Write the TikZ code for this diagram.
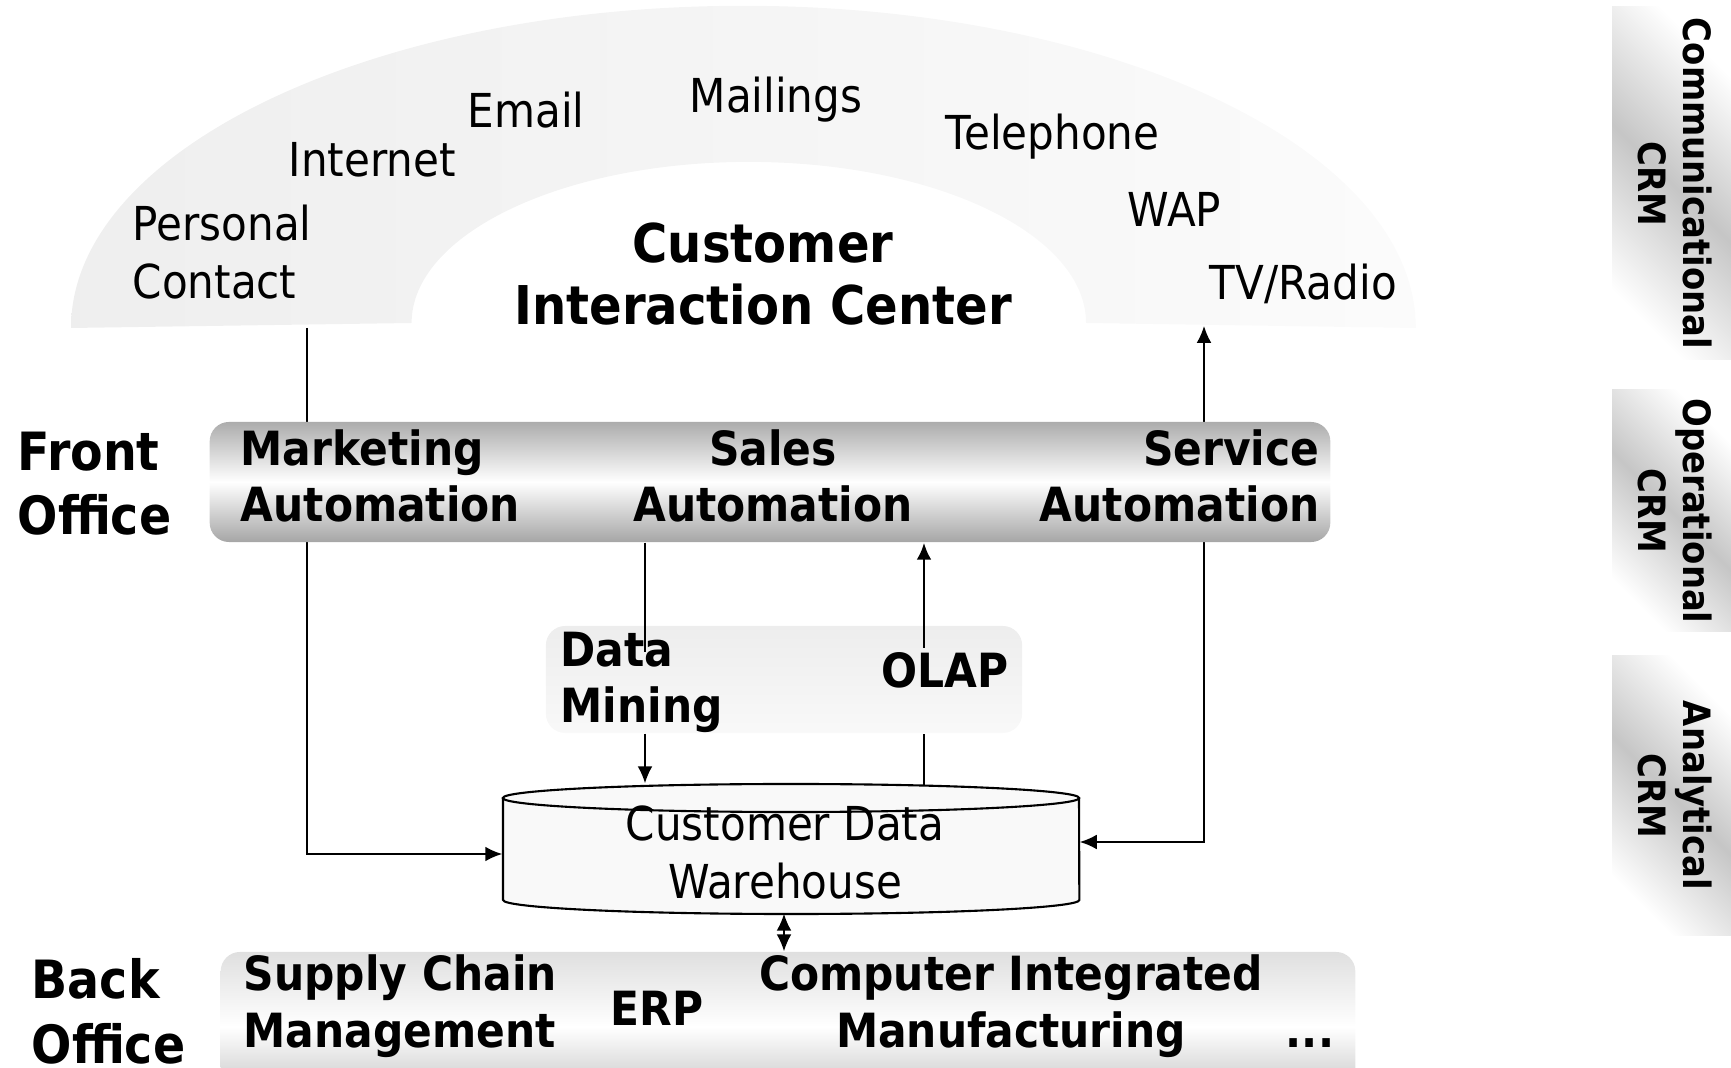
\documentclass[tikz,border=0pt]{standalone}
\usepackage{fontspec}
\setmainfont{DejaVu Sans}[FakeStretch=0.9]
\usetikzlibrary{arrows.meta}

\begin{document}
\begin{tikzpicture}[x=0.01cm,y=-0.01cm,
	>={Latex[length=4.8pt,width=4.2pt]},
	chan/.style={font=\fontsize{13.3}{16.5}\selectfont,inner sep=0pt,anchor=base west,align=left},
	lbl/.style={font=\bfseries\fontsize{13.4}{16}\selectfont,inner sep=0pt},
	title/.style={font=\bfseries\fontsize{15.2}{17.9}\selectfont,inner sep=0pt,align=center},
	office/.style={font=\bfseries\fontsize{15}{18.2}\selectfont,inner sep=0pt,align=left,anchor=base west},
	bar/.style={rounded corners=5.5pt,inner sep=0pt},
	crm/.style={font=\bfseries\fontsize{10.7}{12.8}\selectfont,rotate=-90,align=center,inner sep=0pt},
	crmfill/.style={top color=white,bottom color=white,middle color=gray!45,shading angle=-45},
	conn/.style={line width=0.45pt}]
	\useasboundingbox (0,0) rectangle (1731,1068);
	\clip (0,0) rectangle (1731,1068);
	
	%Kanaele
	\shade[left color=gray!13,right color=gray!3] (71,328) arc[start angle=180,end angle=0,x radius=6.72cm,y radius=3.22cm] -- (1086,323) arc[start angle=0,end angle=180,x radius=3.37cm,y radius=1.61cm] -- cycle;
	\node[chan] (personal) at (132,299) {Personal\\Contact};
	\node[chan] (internet) at (288,177) {Internet};
	\node[chan] (email) at (467,128) {Email};
	\node[chan] (mailings) at (689,113) {Mailings};
	\node[chan] (telephone) at (945,150) {Telephone};
	\node[chan] (wap) at (1127,227) {WAP};
	\node[chan] (tvradio) at (1209,300) {TV/Radio};
	\node[title,anchor=base] (cic) at (763,325) {Customer\\Interaction Center};
	\coordinate (pc) at (307,328);
	\coordinate (tv) at (1204,326);
	
	%Data Warehouse (nur Anker)
	\node[minimum width=5.76cm,minimum height=1.29cm,inner sep=0pt] (cdw) at (791,848.5) {};
	
	\draw[conn,->] (pc) |- ([yshift=-0.055cm]cdw.west);
	\draw[conn,<->] ([yshift=0.065cm]cdw.east) -| (tv);
	
	%Front Office
	\node[office] (front) at (17,535) {Front\\Office};
	\node[bar,top color=gray!65,bottom color=gray!70,middle color=white,minimum width=11.2cm,minimum height=1.2cm] (fo) at (770,482) {};
	\node[lbl,anchor=base west,align=left] (mkt) at (240,522) {Marketing\\Automation};
	\node[lbl,anchor=base,align=center] (sales) at (773,522) {Sales\\Automation};
	\node[lbl,anchor=base east,align=right] (service) at (1320,522) {Service\\Automation};
	
	%Data Mining / OLAP
	\node[bar,top color=gray!14,bottom color=gray!5,minimum width=4.76cm,minimum height=1.07cm] (dm) at (784,679.5) {};
	\node[lbl,anchor=base west,align=left] (mining) at (560,723) {Data\\Mining};
	\node[lbl,anchor=base] (olap) at (945,688) {OLAP};
	\coordinate (dmin) at (645,652);
	\coordinate (olapin) at (924,648);
	\coordinate (olapout) at (924,791);
	
	\draw[conn] (fo.south -| dmin) -- (dmin);
	\draw[conn,->] (dm.south -| dmin) -- (cdw.north -| dmin);
	\draw[conn] (olapout) -- (dm.south -| olapout);
	\draw[thick,->] (olapin) -- (fo.south -| olapin);
	
	%Zylinder
	\fill[gray!5] (503,798) -- (503,900) arc[start angle=180,end angle=360,x radius=2.88cm,y radius=0.14cm] -- (1079,798) arc[start angle=0,end angle=180,x radius=2.88cm,y radius=0.14cm] -- cycle;
	\draw[line width=0.6pt] (503,798) -- (503,900) arc[start angle=180,end angle=360,x radius=2.88cm,y radius=0.14cm] -- (1079,798);
	\draw[line width=0.6pt] (791,798) ellipse[x radius=2.88cm,y radius=0.14cm];
	\node[chan,anchor=base,align=center] (cdwtext) at (785,899) {Customer Data\\Warehouse};
	
	%Back Office
	\node[office] (back) at (31,1063) {Back\\Office};
	\node[bar,top color=gray!25,bottom color=gray!50,middle color=white,minimum width=11.34cm,minimum height=1.5cm] (bo) at (788,1027) {};
	\node[lbl,anchor=base west,align=left] (scm) at (243,1047) {Supply Chain\\Management};
	\node[lbl,anchor=base] (erp) at (657,1025) {ERP};
	\node[lbl,anchor=base,align=center] (cim) at (1011,1047) {Computer Integrated\\Manufacturing};
	\node[lbl,anchor=base] (more) at (1310,1047) {...};
	
	\draw[conn,<->] ([xshift=-0.07cm]cdw.south) -- ([xshift=-0.07cm]cdw.south |- bo.north);
	
	%CRM
	\foreach \ya/\yb/\nm in {7/360/Communicational,390/632/Operational,656/935/Analytical}{
		\shade[crmfill] (1612,\ya) rectangle (1731,\yb);
		\node[crm] (crm\nm) at (1675,{(\ya+\yb)/2}) {\nm\\CRM};
	}
	
\end{tikzpicture}
\end{document}
